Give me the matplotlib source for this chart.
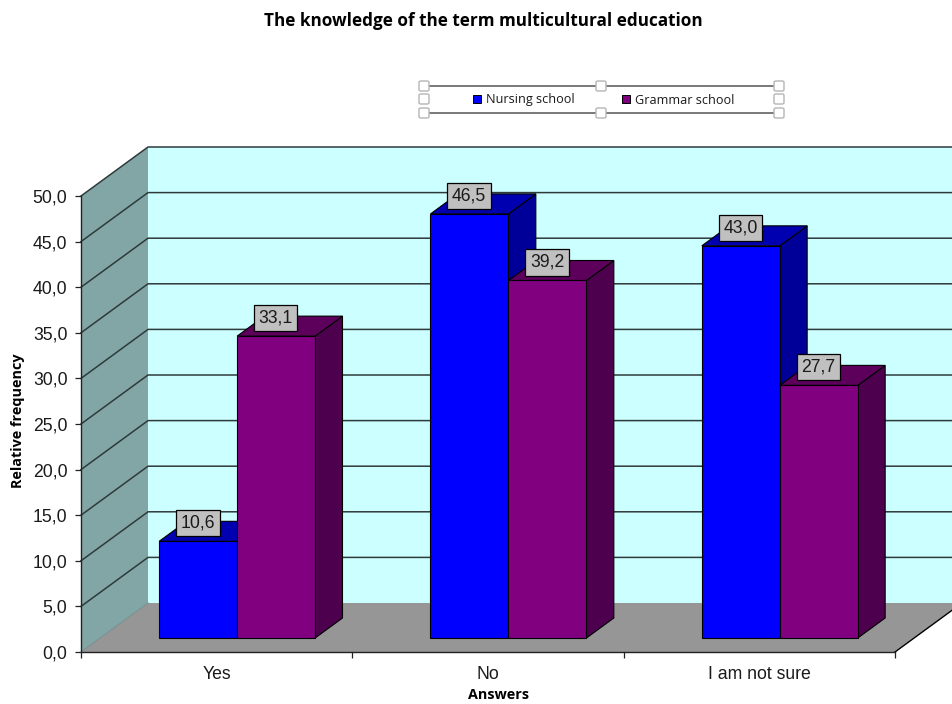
import matplotlib
matplotlib.use("Agg")
import matplotlib.pyplot as plt
from matplotlib.patches import Polygon, Rectangle, FancyBboxPatch
from matplotlib.lines import Line2D

categories = ["Yes", "No", "I am not sure"]
series_names = ["Nursing school", "Grammar school"]
nursing = [10.6, 46.5, 43.0]
grammar = [33.1, 39.2, 27.7]
y_ticks = [0, 5, 10, 15, 20, 25, 30, 35, 40, 45, 50]

W, H = 952, 704
fig = plt.figure(figsize=(W / 100, H / 100), dpi=100, facecolor="white")
SANS = ["Liberation Sans", "DejaVu Sans"]
HEAD = ["Open Sans", "DejaVu Sans"]


def fx(px):
    return px / W


def fy(py):
    return 1 - py / H


ax = fig.add_axes([fx(81), fy(652), fx(895) - fx(81), fy(196) - fy(652)])
ax.set_xlim(0, 3)
ax.set_ylim(0, 50)
ax.patch.set_visible(False)

# oblique depth of the chart box, in data units
px_x = 3 / (895 - 81)
px_y = 50 / (652 - 196)
DX = 67 * px_x
DY = 49 * px_y
F_FRONT, F_BACK = 14 / 49, 34 / 49
GAP = (159 - 100) * px_x
BAR_W = 78 * px_x

WALL, BACK, FLOOR = "#82a6a6", "#ccffff", "#969696"
GRID = "#2f3a3a"


def poly(pts, fc, ec="none", lw=0.0, z=1):
    ax.add_patch(Polygon(pts, closed=True, fc=fc, ec=ec, lw=lw, zorder=z, clip_on=False, joinstyle="miter"))


# walls and floor
poly([(0, 0), (DX, DY), (DX, 50 + DY), (0, 50)], WALL)
poly([(DX, DY), (DX + 3, DY), (DX + 3, DY + 50), (DX, DY + 50)], BACK)
poly([(0, 0), (3, 0), (3 + DX, DY), (DX, DY)], FLOOR)

# gridlines on side wall and back wall
for v in y_ticks[1:]:
    ax.plot([0, DX, DX + 3], [v, v + DY, v + DY], color=GRID, lw=1.1, zorder=2, clip_on=False)
ax.plot([0, DX], [0, DY], color="#7a9090", lw=0.8, zorder=2, clip_on=False)
ax.plot([3, 3 + DX], [0, DY], color="black", lw=1.0, zorder=2, clip_on=False)

# bars
styles = [("#0000ff", "#000099", "#0000b0"), ("#800080", "#4d004d", "#5c005c")]
ox, oy = F_FRONT * DX, F_FRONT * DY
ddx, ddy = (F_BACK - F_FRONT) * DX, (F_BACK - F_FRONT) * DY
z = 3
for c in range(len(categories)):
    for s, vals in enumerate((nursing, grammar)):
        v = vals[c]
        front, side, top = styles[s]
        l = c + GAP + s * BAR_W + ox
        r = l + BAR_W
        b = oy
        t = oy + v
        poly([(r, b), (r + ddx, b + ddy), (r + ddx, t + ddy), (r, t)], side, "black", 0.8, z)
        poly([(l, t), (r, t), (r + ddx, t + ddy), (l + ddx, t + ddy)], top, "black", 0.8, z)
        poly([(l, b), (r, b), (r, t), (l, t)], front, "black", 0.8, z)
        z += 1

# data labels
for c in range(len(categories)):
    for s, vals in enumerate((nursing, grammar)):
        v = vals[c]
        xc = c + GAP + (s + 0.5) * BAR_W + ox
        ax.annotate(f"{v:.1f}".replace(".", ","), (xc, oy + v), xytext=(-0.3, 13.0), textcoords="offset points",
                    ha="center", va="center", fontsize=12.7, family=SANS, color="#1a1a1a", zorder=30,
                    annotation_clip=False,
                    bbox=dict(boxstyle="square,pad=0.26", fc="#c0c0c0", ec="black", lw=0.9))

# axes
for name in ("top", "right"):
    ax.spines[name].set_visible(False)
for name in ("left", "bottom"):
    ax.spines[name].set_color("#222222")
    ax.spines[name].set_linewidth(1.0)
    ax.spines[name].set_zorder(2.5)
ax.set_yticks(y_ticks)
ax.set_yticklabels([f"{v:.1f}".replace(".", ",") for v in y_ticks], fontsize=12.7, family=SANS, color="#1a1a1a")
ax.set_xticks([0, 1, 2, 3])
ax.set_xticklabels([])
ax.tick_params(axis="y", length=4, width=0.9, pad=5.7, color="#222222")
ax.tick_params(axis="x", length=4, width=0.9, color="#222222")
for c, name in enumerate(categories):
    ax.annotate(name, (c + 0.5, 0), xytext=(0, -16.2), textcoords="offset points", ha="center", va="center",
                fontsize=12.7, family=SANS, color="#1a1a1a", annotation_clip=False)

# titles
fig.text(fx(483.5), fy(21.5), "The knowledge of the term multicultural education", ha="center", va="center",
         fontsize=12.3, fontweight="bold", family=HEAD, color="black")
fig.text(fx(18), fy(421), "Relative frequency", rotation=90, ha="center", va="center",
         fontsize=10.4, fontweight="bold", family=HEAD, color="black")
fig.text(fx(498), fy(695), "Answers", ha="center", va="center",
         fontsize=10.4, fontweight="bold", family=HEAD, color="black")

# legend
for py in (86, 113):
    fig.add_artist(Line2D([fx(424), fx(779)], [fy(py), fy(py)], color="#555555", lw=1.1, zorder=5))
for px, py in [(424, 86), (424, 99), (424, 113), (601, 86), (601, 113), (779, 86), (779, 99), (779, 113)]:
    fig.add_artist(FancyBboxPatch((fx(px - 5), fy(py + 5)), 10 / W, 10 / H, boxstyle="round,pad=0,rounding_size=0.002",
                                  transform=fig.transFigure, fc="white", ec="#b5b5b5", lw=1.0, zorder=6))
handles = [Rectangle((0, 0), 1, 1, fc=styles[i][0], ec="black", lw=0.7) for i in range(2)]
fig.legend(handles, series_names, ncol=2, loc="center", bbox_to_anchor=(fx(603.5), fy(100)), frameon=False,
           prop={"family": HEAD, "size": 9.1}, handlelength=0.62, handleheight=0.62, handletextpad=0.4,
           columnspacing=3.75, labelcolor="#1a1a1a")

fig.savefig("out.png", dpi=100, facecolor="white")
